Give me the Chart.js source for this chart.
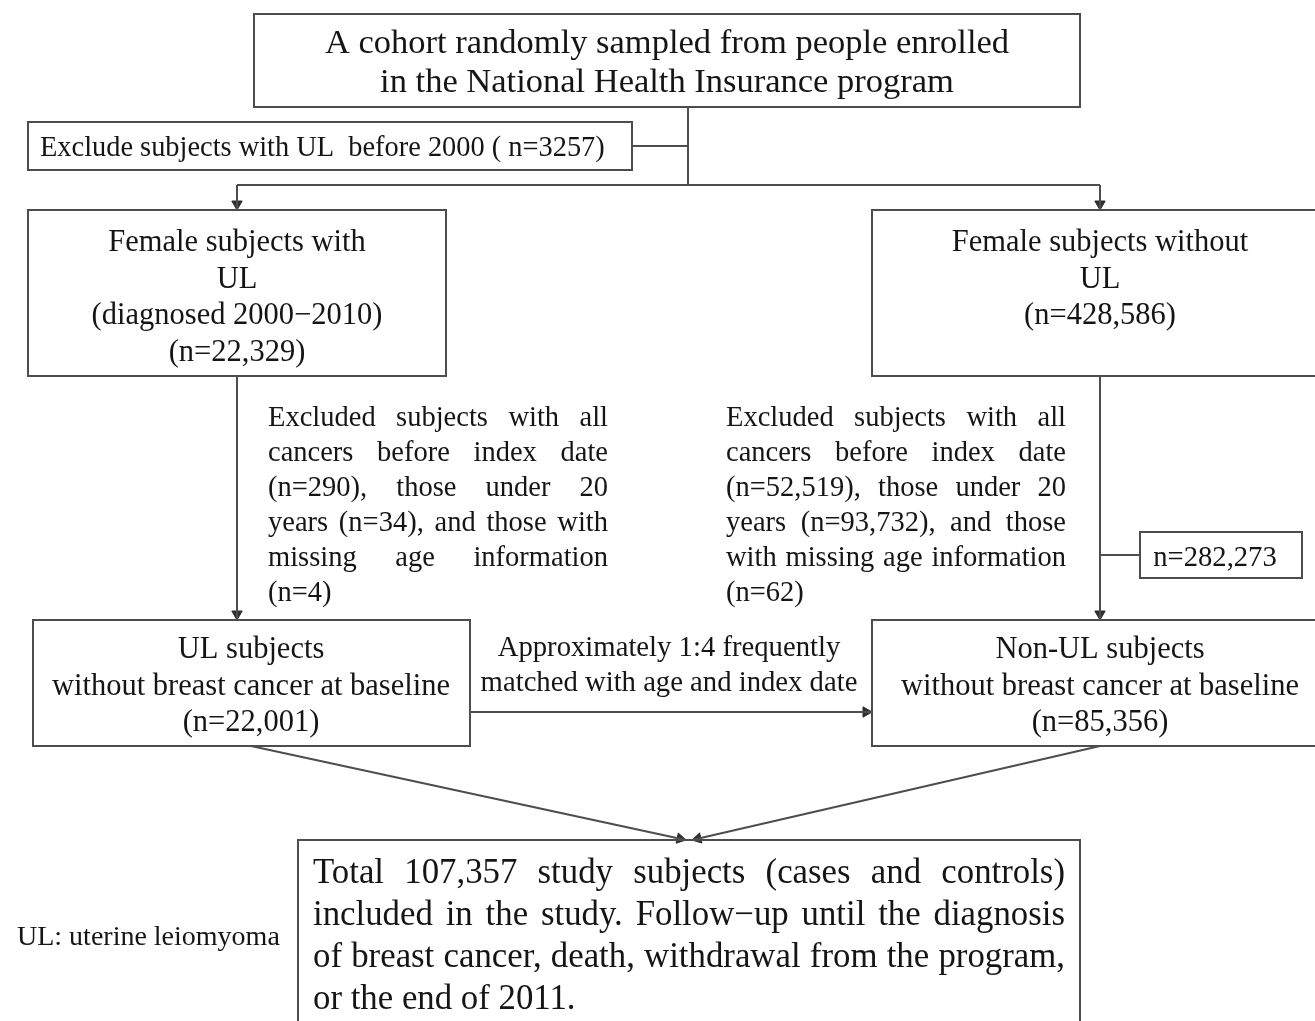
<!DOCTYPE html>
<html>
<head>
<meta charset="utf-8">
<script src="https://cdn.jsdelivr.net/npm/chart.js@4.4.1/dist/chart.umd.min.js"></script>
<style>
  html, body { margin: 0; padding: 0; background: #fff; }
  #wrap { width: 1315px; height: 1021px; }
</style>
</head>
<body>
<div id="wrap"><canvas id="flow"></canvas></div>
<script>
// texts of the flow diagram
const cohortText = ['A cohort randomly sampled from people enrolled', 'in the National Health Insurance program'];
const excludeText = ['Exclude subjects with UL  before 2000 ( n=3257)'];
const ulGroupText = ['Female subjects with', 'UL', '(diagnosed 2000\u22122010)', '(n=22,329)'];
const nonUlGroupText = ['Female subjects without', 'UL', '(n=428,586)'];
const ulExcludedText = [
    'Excluded subjects with all',
    'cancers before index date',
    '(n=290), those under 20',
    'years (n=34), and those with',
    'missing age information',
    '(n=4)'
];
const nonUlExcludedText = [
    'Excluded subjects with all',
    'cancers before index date',
    '(n=52,519), those under 20',
    'years (n=93,732), and those',
    'with missing age information',
    '(n=62)'
];
const droppedText = ['n=282,273'];
const ulCohortText = ['UL subjects', 'without breast cancer at baseline', '(n=22,001)'];
const matchText = ['Approximately 1:4 frequently', 'matched with age and index date'];
const nonUlCohortText = ['Non-UL subjects', 'without breast cancer at baseline', '(n=85,356)'];
const finalText = [
    'Total 107,357 study subjects (cases and controls)',
    'included in the study. Follow\u2212up until the diagnosis',
    'of breast cancer, death, withdrawal from the program,',
    'or the end of 2011.'
];
const footnoteText = ['UL: uterine leiomyoma'];

// layout, in axis units
const LINE = '#4d4d4d';
const INK = '#151515';
const FONT = '"Liberation Serif", "Times New Roman", serif';
const LIFT = 3;

const nodes = [
    { text: cohortText, box: [254, 14, 1080, 107], align: 'center', cx: 667, y: 41, step: 39, size: 34.5 },
    { text: excludeText, box: [28, 122, 632, 170], align: 'left', cx: 40, y: 146, step: 0, size: 28.4 },
    { text: ulGroupText, box: [28, 210, 446, 376], align: 'center', cx: 237, y: 240, step: 36.7, size: 30.5 },
    { text: nonUlGroupText, box: [872, 210, 1320, 376], align: 'center', cx: 1100, y: 240, step: 36.7, size: 30.5 },
    { text: ulExcludedText, align: 'justify', left: 268, right: 608, y: 416, step: 35, size: 28.5 },
    { text: nonUlExcludedText, align: 'justify', left: 726, right: 1066, y: 416, step: 35, size: 28.5 },
    { text: droppedText, box: [1140, 532, 1302, 578], align: 'center', cx: 1215, y: 555, step: 0, size: 28.6 },
    { text: ulCohortText, box: [33, 620, 470, 746], align: 'center', cx: 251, y: 647, step: 36.5, size: 30.5 },
    { text: matchText, align: 'center', cx: 669, y: 645, step: 35, size: 28.7 },
    { text: nonUlCohortText, box: [872, 620, 1320, 746], align: 'center', cx: 1100, y: 647, step: 36.5, size: 30.5 },
    { text: finalText, box: [298, 840, 1080, 1030], align: 'justify', left: 313, right: 1065, y: 871, step: 42, size: 34.8 },
    { text: footnoteText, align: 'left', cx: 17, y: 935, step: 0, size: 28 }
];

const connectors = [
    { pts: [[688, 107], [688, 185]] },
    { pts: [[632, 146], [688, 146]] },
    { pts: [[237, 185], [1100, 185]] },
    { pts: [[237, 185], [237, 210]], arrow: true },
    { pts: [[1100, 185], [1100, 210]], arrow: true },
    { pts: [[237, 376], [237, 620]], arrow: true },
    { pts: [[1100, 376], [1100, 620]], arrow: true },
    { pts: [[1100, 555], [1140, 555]] },
    { pts: [[470, 712], [872, 712]], arrow: true },
    { pts: [[251, 746], [686, 840]], arrow: true },
    { pts: [[1100, 746], [692, 840]], arrow: true }
];

const HEAD = 6;

const lineSets = connectors.map(c => ({
    type: 'scatter',
    data: c.pts.map(p => ({ x: p[0], y: p[1] })),
    showLine: true,
    borderColor: LINE,
    borderWidth: 2,
    pointRadius: 0,
    fill: false
}));

const heads = connectors.filter(c => c.arrow).map(c => {
    const a = c.pts[c.pts.length - 2], b = c.pts[c.pts.length - 1];
    const dx = b[0] - a[0], dy = b[1] - a[1];
    const len = Math.hypot(dx, dy);
    return {
        x: b[0] - HEAD * dx / len,
        y: b[1] - HEAD * dy / len,
        rot: Math.atan2(dx, -dy) * 180 / Math.PI
    };
});

const headSet = {
    type: 'scatter',
    data: heads.map(h => ({ x: h.x, y: h.y })),
    pointStyle: 'triangle',
    pointRadius: HEAD,
    pointRotation: heads.map(h => h.rot),
    backgroundColor: '#2e2e2e',
    borderColor: '#2e2e2e',
    borderWidth: 1
};

const boxPlugin = {
    id: 'boxes',
    beforeDraw(chart) {
        const c = chart.ctx;
        c.save();
        c.fillStyle = '#ffffff';
        c.fillRect(0, 0, chart.width, chart.height);
        c.restore();
    },
    afterDatasetsDraw(chart) {
        const c = chart.ctx;
        const xs = chart.scales.x, ys = chart.scales.y;
        c.save();
        nodes.forEach(n => {
            if (n.box) {
                const x0 = xs.getPixelForValue(n.box[0]), y0 = ys.getPixelForValue(n.box[1]);
                const x1 = xs.getPixelForValue(n.box[2]), y1 = ys.getPixelForValue(n.box[3]);
                c.strokeStyle = LINE;
                c.lineWidth = 2;
                c.strokeRect(x0, y0, x1 - x0, y1 - y0);
            }
            c.fillStyle = INK;
            c.font = n.size + 'px ' + FONT;
            c.textBaseline = 'middle';
            n.text.forEach((line, i) => {
                const py = ys.getPixelForValue(n.y + LIFT + i * n.step);
                if (n.align === 'justify' && i < n.text.length - 1) {
                    const left = xs.getPixelForValue(n.left), right = xs.getPixelForValue(n.right);
                    const words = line.split(' ');
                    const used = words.reduce((s, w) => s + c.measureText(w).width, 0);
                    const gap = Math.max(4, (right - left - used) / (words.length - 1));
                    let px = left;
                    c.textAlign = 'left';
                    words.forEach(w => {
                        c.fillText(w, px, py);
                        px += c.measureText(w).width + gap;
                    });
                } else if (n.align === 'justify') {
                    c.textAlign = 'left';
                    c.fillText(line, xs.getPixelForValue(n.left), py);
                } else {
                    c.textAlign = n.align;
                    c.fillText(line, xs.getPixelForValue(n.cx), py);
                }
            });
        });
        c.restore();
    }
};

new Chart(document.getElementById('flow'), {
    type: 'scatter',
    data: { datasets: [...lineSets, headSet] },
    options: {
        responsive: true,
        maintainAspectRatio: false,
        animation: false,
        layout: { padding: 0, autoPadding: false },
        plugins: { legend: { display: false }, tooltip: { enabled: false } },
        scales: {
            x: { type: 'linear', min: 0, max: 1315, display: false },
            y: { type: 'linear', min: 0, max: 1021, reverse: true, display: false }
        }
    },
    plugins: [boxPlugin]
});
</script>
</body>
</html>
